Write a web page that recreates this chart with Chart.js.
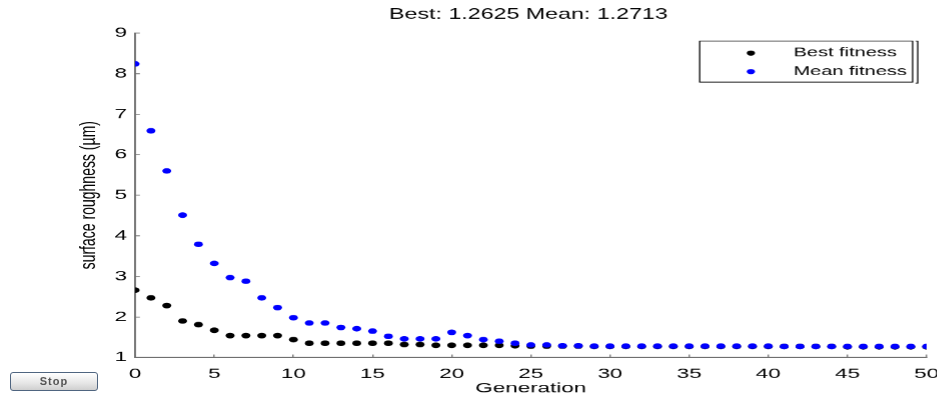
<!DOCTYPE html>
<html>
<head>
<meta charset="utf-8">
<script src="https://cdn.jsdelivr.net/npm/chart.js@4"></script>
<style>
    html, body { margin: 0; padding: 0; background: #fff; }
    body { width: 937px; height: 398px; position: relative; overflow: hidden; }
    /* the original figure is stretched sideways, so the chart is drawn narrow and scaled */
    #wrap { position: absolute; left: 0; top: 0; width: 586px; height: 398px;
            transform: scaleX(1.6); transform-origin: 0 0; }
    #stop { position: absolute; left: 10px; top: 372px; width: 86px; height: 17px;
            border: 1px solid #4f6580; border-radius: 3px;
            background: linear-gradient(#ffffff, #e6e6e6 60%, #cfcfcf);
            font: bold 11px "Liberation Sans", Arial, sans-serif; color: #555;
            text-align: center; line-height: 17px; letter-spacing: 1px; }
</style>
</head>
<body>
<div id="wrap"><canvas id="chart" width="586" height="398"></canvas></div>
<div id="stop">Stop</div>
<script>
////////////////////////////////////////////////////////////////////////
// Data
const generations = [0, 1, 2, 3, 4, 5, 6, 7, 8, 9, 10, 11, 12, 13, 14, 15, 16, 17, 18, 19, 20,
    21, 22, 23, 24, 25, 26, 27, 28, 29, 30, 31, 32, 33, 34, 35, 36, 37, 38, 39, 40,
    41, 42, 43, 44, 45, 46, 47, 48, 49, 50]

const bestFitness = [2.66, 2.47, 2.28, 1.90, 1.81, 1.67, 1.54, 1.54, 1.54, 1.54, 1.44,
    1.35, 1.35, 1.35, 1.35, 1.35, 1.35, 1.32, 1.32, 1.30, 1.30,
    1.30, 1.30, 1.30, 1.29, 1.28, 1.28, 1.28, 1.28, 1.27, 1.27,
    1.27, 1.27, 1.27, 1.27, 1.27, 1.27, 1.27, 1.27, 1.27, 1.27,
    1.27, 1.27, 1.27, 1.27, 1.2625, 1.2625, 1.2625, 1.2625, 1.2625, 1.2625]

const meanFitness = [8.24, 6.59, 5.60, 4.51, 3.79, 3.32, 2.97, 2.88, 2.47, 2.23, 1.98,
    1.85, 1.85, 1.74, 1.71, 1.65, 1.52, 1.46, 1.46, 1.46, 1.62,
    1.54, 1.44, 1.40, 1.35, 1.31, 1.31, 1.29, 1.29, 1.28, 1.28,
    1.28, 1.28, 1.28, 1.28, 1.28, 1.28, 1.28, 1.28, 1.28, 1.28,
    1.27, 1.27, 1.27, 1.27, 1.27, 1.27, 1.27, 1.27, 1.27, 1.2713]

const xTicks = [0, 5, 10, 15, 20, 25, 30, 35, 40, 45, 50]
const yTicks = [1, 2, 3, 4, 5, 6, 7, 8, 9]

const titleText = "Best: 1.2625 Mean: 1.2713"
const xLabel = "Generation"
const yLabel = "surface roughness (\u00b5m)"

////////////////////////////////////////////////////////////////////////
// Helpers
const FONT = '"Liberation Sans", Arial, Helvetica, sans-serif'
const AXIS_GREY = "#6f6f6f"

function points(values) {
    return values.map((v, i) => ({ x: generations[i], y: v }))
}

/**
 * Draws the title above the axes.
 */
const titlePlugin = {
    id: "plotTitle",
    afterDraw(chart) {
        const ctx = chart.ctx
        const area = chart.chartArea
        ctx.save()
        ctx.font = "14.5px " + FONT
        ctx.fillStyle = "#000"
        ctx.textAlign = "center"
        ctx.textBaseline = "middle"
        ctx.fillText(titleText, (area.left + area.right) / 2 - 1.5, 15)
        ctx.restore()
    }
}

/**
 * Draws a boxed legend in the upper right corner of the axes.
 */
const boxLegendPlugin = {
    id: "boxLegend",
    afterDraw(chart) {
        const ctx = chart.ctx
        const left = 437, right = 570, top = 41, bottom = 82
        ctx.save()
        ctx.strokeStyle = "#000"
        ctx.lineWidth = 0.8
        ctx.strokeRect(left, top, right - left, bottom - top)
        // bracket on the right side
        ctx.beginPath()
        ctx.moveTo(571.8, top)
        ctx.lineTo(573.2, top)
        ctx.lineTo(573.2, bottom + 1)
        ctx.lineTo(571.8, bottom + 1)
        ctx.stroke()

        ctx.font = "12.5px " + FONT
        ctx.textBaseline = "middle"
        ctx.textAlign = "left"
        const rows = [53, 71.5]
        chart.data.datasets.slice().sort((a, b) => a.legendIndex - b.legendIndex).forEach((ds, i) => {
            ctx.fillStyle = ds.backgroundColor
            ctx.beginPath()
            ctx.arc(469, rows[i], 2.6, 0, Math.PI * 2)
            ctx.fill()
            ctx.fillStyle = "#000"
            ctx.fillText(ds.label, 495.6, rows[i])
        })
        ctx.restore()
    }
}

////////////////////////////////////////////////////////////////////////
// Chart
const config = {
    type: "scatter",
    data: {
        datasets: [
            {
                label: "Mean fitness",
                legendIndex: 1,
                order: 0,
                data: points(meanFitness),
                backgroundColor: "#0000ff",
                borderWidth: 0,
                pointRadius: 2.8
            },
            {
                label: "Best fitness",
                legendIndex: 0,
                order: 1,
                data: points(bestFitness),
                backgroundColor: "#000000",
                borderWidth: 0,
                pointRadius: 2.8
            }
        ]
    },
    options: {
        responsive: false,
        animation: false,
        devicePixelRatio: 1.6,
        layout: {
            padding: { left: 47, right: 7.25, top: 33, bottom: 0 }
        },
        plugins: {
            legend: { display: false },
            title: { display: false },
            tooltip: { enabled: false }
        },
        scales: {
            x: {
                type: "linear",
                min: 0,
                max: 50,
                afterBuildTicks: scale => { scale.ticks = xTicks.map(v => ({ value: v })) },
                afterFit: scale => {
                    scale.height = 41
                    scale.paddingLeft = 0
                    scale.paddingRight = 0
                },
                border: { display: true, color: AXIS_GREY, width: 1.2 },
                grid: { drawOnChartArea: false, drawTicks: true, tickLength: -3, color: AXIS_GREY, lineWidth: 0.8 },
                ticks: { color: "#000", padding: 11, maxRotation: 0, font: { size: 14, family: FONT } },
                title: { display: true, text: xLabel, color: "#000", padding: { top: 0, bottom: 1.6 }, font: { size: 14, family: FONT } }
            },
            y: {
                type: "linear",
                min: 1,
                max: 9,
                afterBuildTicks: scale => { scale.ticks = yTicks.map(v => ({ value: v })) },
                afterFit: scale => {
                    scale.width = 37.4
                    scale.paddingTop = 0
                    scale.paddingBottom = 0
                },
                border: { display: true, color: AXIS_GREY, width: 1.2 },
                grid: { drawOnChartArea: false, drawTicks: true, tickLength: -3, color: AXIS_GREY, lineWidth: 0.8 },
                ticks: { color: "#000", padding: 8, font: { size: 14, family: FONT } },
                title: { display: true, text: yLabel, color: "#000", padding: { top: 0, bottom: 0 }, font: { size: 14, family: FONT } }
            }
        }
    },
    plugins: [titlePlugin, boxLegendPlugin]
}

new Chart(document.getElementById("chart"), config)
</script>
</body>
</html>
